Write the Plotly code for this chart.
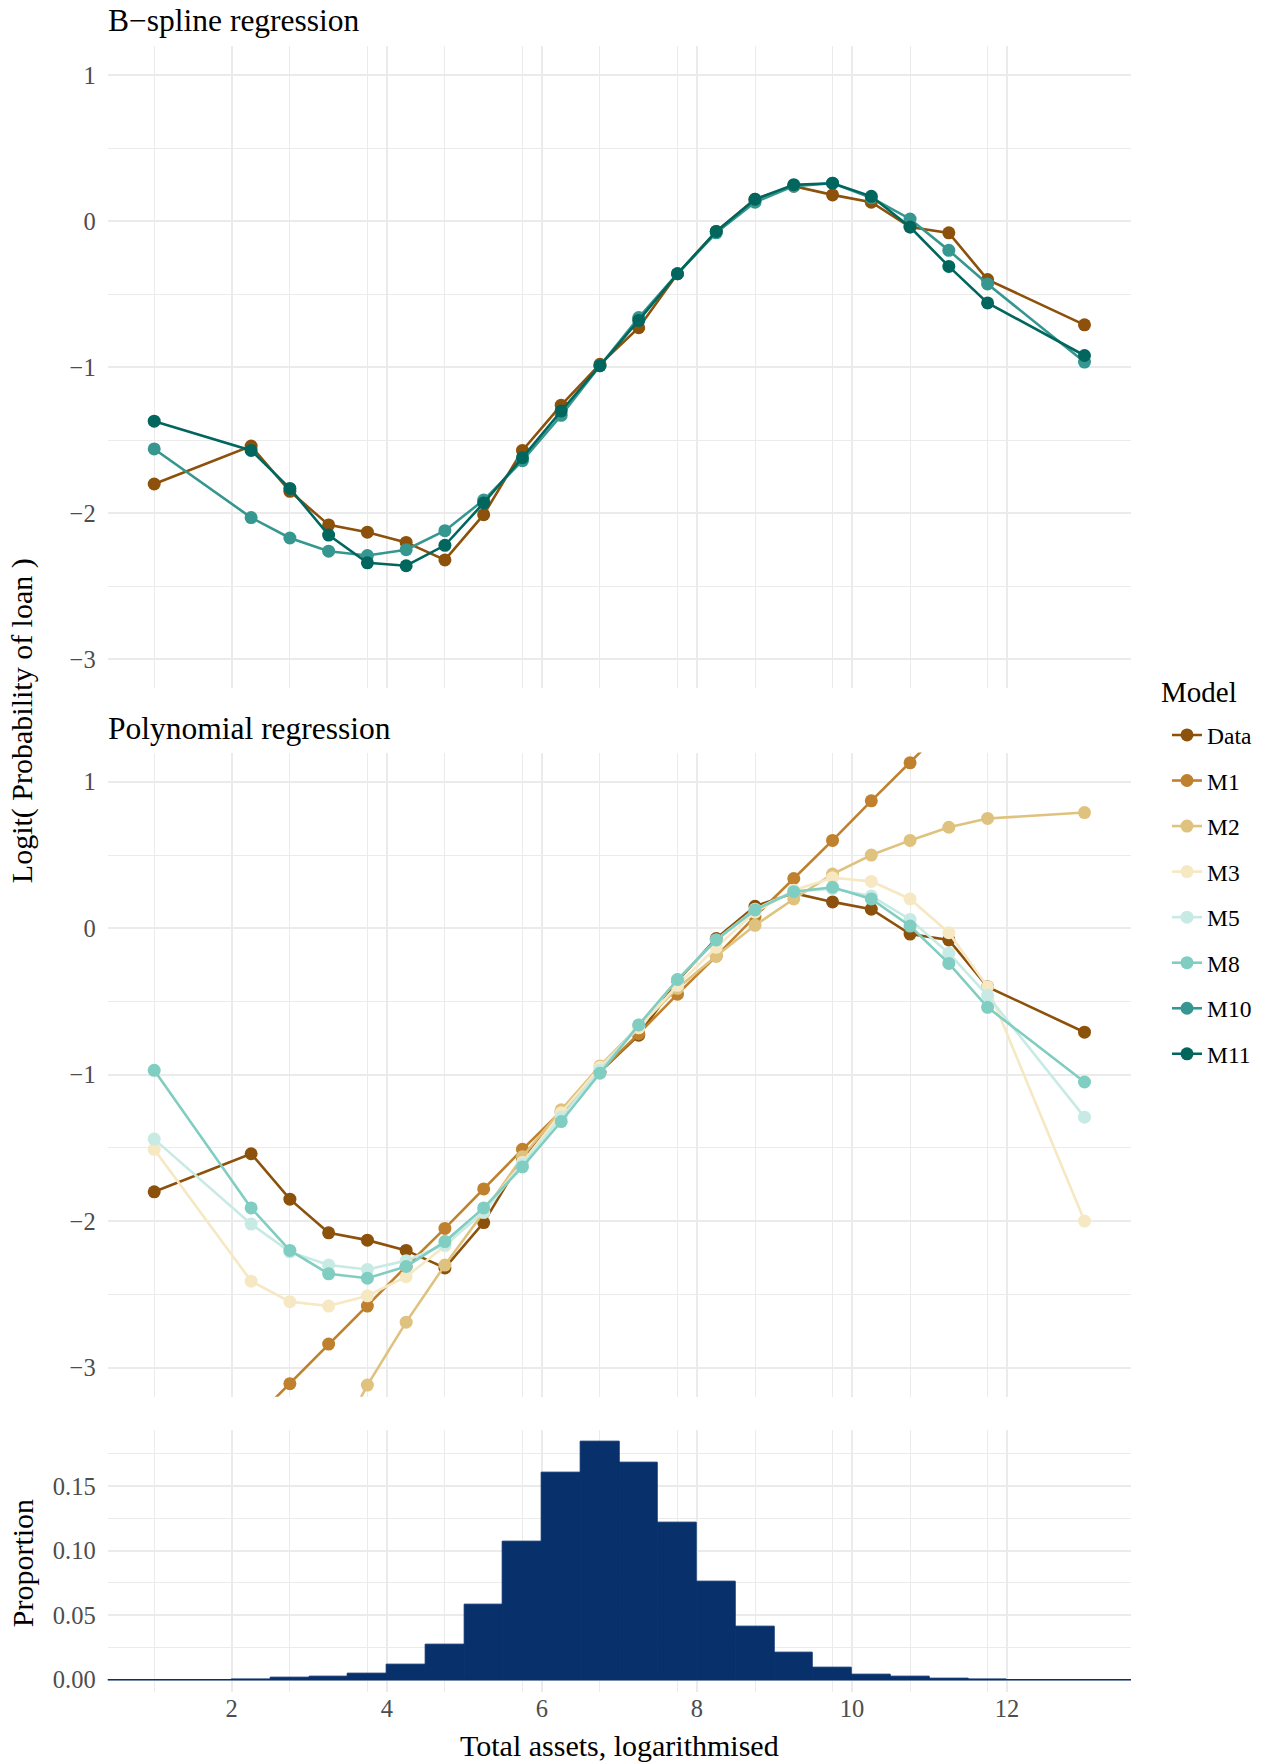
import plotly.graph_objects as go

# ---------------- data ----------------
x_pts = [1, 2.25, 2.75, 3.25, 3.75, 4.25, 4.75, 5.25, 5.75, 6.25, 6.75,
         7.25, 7.75, 8.25, 8.75, 9.25, 9.75, 10.25, 10.75, 11.25, 11.75, 13]

data_y = [-1.80, -1.54, -1.85, -2.08, -2.13, -2.20, -2.32, -2.01, -1.57, -1.26, -0.98,
          -0.73, -0.36, -0.07, 0.15, 0.24, 0.18, 0.13, -0.04, -0.08, -0.40, -0.71]
m1_y = [-4.04, -3.375, -3.11, -2.84, -2.58, -2.31, -2.05, -1.78, -1.51, -1.25, -0.98,
        -0.72, -0.45, -0.19, 0.08, 0.34, 0.60, 0.87, 1.13, 1.40, 1.66, 2.33]
m2_y = [-6.30, -4.70, -4.15, -3.62, -3.12, -2.69, -2.30, -1.94, -1.56, -1.24, -0.94,
        -0.67, -0.41, -0.19, 0.02, 0.20, 0.37, 0.50, 0.60, 0.69, 0.75, 0.79]
m3_y = [-1.51, -2.41, -2.55, -2.58, -2.51, -2.38, -2.17, -1.93, -1.60, -1.26, -0.95,
        -0.68, -0.39, -0.13, 0.11, 0.26, 0.345, 0.32, 0.20, -0.03, -0.40, -2.00]
m5_y = [-1.44, -2.02, -2.21, -2.30, -2.33, -2.27, -2.16, -1.94, -1.61, -1.29, -0.97,
        -0.66, -0.35, -0.08, 0.13, 0.25, 0.27, 0.22, 0.06, -0.17, -0.46, -1.29]
m8_y = [-0.97, -1.91, -2.20, -2.36, -2.39, -2.31, -2.14, -1.91, -1.63, -1.32, -0.99,
        -0.66, -0.35, -0.08, 0.125, 0.25, 0.28, 0.20, 0.015, -0.24, -0.54, -1.05]
m10_y = [-1.56, -2.03, -2.17, -2.26, -2.29, -2.25, -2.12, -1.91, -1.64, -1.33, -0.99,
         -0.66, -0.36, -0.08, 0.13, 0.24, 0.26, 0.16, 0.015, -0.20, -0.43, -0.965]
m11_y = [-1.37, -1.57, -1.83, -2.15, -2.34, -2.36, -2.22, -1.93, -1.62, -1.30, -0.99,
         -0.68, -0.36, -0.07, 0.15, 0.25, 0.26, 0.17, -0.04, -0.31, -0.56, -0.92]

hist_x = [2.25, 2.75, 3.25, 3.75, 4.25, 4.75, 5.25, 5.75, 6.25, 6.75,
          7.25, 7.75, 8.25, 8.75, 9.25, 9.75, 10.25, 10.75, 11.25, 11.75]
hist_y = [0.0004, 0.0013, 0.0023, 0.0044, 0.0116, 0.0269, 0.058, 0.1068, 0.1601, 0.1844,
          0.1681, 0.1216, 0.0758, 0.0409, 0.0207, 0.0091, 0.0042, 0.0021, 0.0006, 0.0003]

model_names = ["Data", "M1", "M2", "M3", "M5", "M8", "M10", "M11"]
model_colors = ["#8c510a", "#bf812d", "#dfc27d", "#f6e8c3", "#c7eae5", "#80cdc1", "#35978f", "#01665e"]

top_series = [("Data", data_y), ("M10", m10_y), ("M11", m11_y)]
bottom_series = [("Data", data_y), ("M1", m1_y), ("M2", m2_y), ("M3", m3_y),
                 ("M5", m5_y), ("M8", m8_y)]

x_major = [2, 4, 6, 8, 10, 12]
x_minor = [1, 2.75, 3.75, 4.75, 5.75, 6.75, 7.75, 8.75, 9.75, 10.75, 11.75]
y_major = [-3, -2, -1, 0, 1]
y_minor = [-2.5, -1.5, -0.5, 0.5]
h_major = [0, 0.05, 0.10, 0.15]
h_minor = [0.025, 0.075, 0.125, 0.175]

# ---------------- layout helpers ----------------
W, H = 1269, 1764
FONT = "Liberation Serif"
GRID = "#ebebeb"
TICKC = "#4d4d4d"
TICKSIZE = 24.5


def fx(p):
    return p / W


def fy(p):
    return 1 - p / H


color_of = dict(zip(model_names, model_colors))
rank_of = {n: i for i, n in enumerate(model_names)}
shown = set()

fig = go.Figure()


def add_series(series, xa, ya):
    for name, ys in series:
        show = name not in shown
        shown.add(name)
        fig.add_trace(go.Scatter(
            x=x_pts, y=ys, mode="lines+markers", name=name,
            legendgroup=name, showlegend=show, legendrank=rank_of[name],
            line=dict(color=color_of[name], width=2.6),
            marker=dict(color=color_of[name], size=13),
            xaxis=xa, yaxis=ya,
        ))


add_series(top_series, "x", "y")
add_series(bottom_series, "x2", "y2")

fig.add_trace(go.Bar(
    x=hist_x, y=hist_y, width=0.5, showlegend=False,
    marker=dict(color="#08306b", line=dict(color="#08306b", width=1)),
    xaxis="x3", yaxis="y3",
))

xdom = [fx(107.7), fx(1131)]
xcommon = dict(domain=xdom, range=[0.4, 13.6], tickvals=x_major, showgrid=True,
               gridcolor=GRID, gridwidth=2, zeroline=False, showline=False, ticks="",
               minor=dict(tickvals=x_minor, showgrid=True, gridcolor=GRID, gridwidth=1),
               tickfont=dict(family=FONT, size=TICKSIZE, color=TICKC))
ycommon = dict(showgrid=True, gridcolor=GRID, gridwidth=2, zeroline=False, showline=False,
               ticks="", tickfont=dict(family=FONT, size=TICKSIZE, color=TICKC),
               ticklabelstandoff=11)

fig.update_layout(
    width=W, height=H,
    margin=dict(l=0, r=0, t=0, b=0),
    paper_bgcolor="white", plot_bgcolor="white",
    font=dict(family=FONT, color="black"),
    xaxis=dict(**xcommon, anchor="y", showticklabels=False),
    xaxis2=dict(**xcommon, anchor="y2", showticklabels=False),
    xaxis3=dict(**xcommon, anchor="y3", showticklabels=True),
    yaxis=dict(**ycommon, domain=[fy(689.2), fy(46)], range=[-3.2, 1.2], anchor="x",
               tickvals=y_major,
               minor=dict(tickvals=y_minor, showgrid=True, gridcolor=GRID, gridwidth=1)),
    yaxis2=dict(**ycommon, domain=[fy(1398.4), fy(753.4)], range=[-3.2, 1.2], anchor="x2",
                tickvals=y_major,
                minor=dict(tickvals=y_minor, showgrid=True, gridcolor=GRID, gridwidth=1)),
    yaxis3=dict(**ycommon, domain=[fy(1693.6), fy(1431.3)], range=[-0.00922, 0.1936],
                anchor="x3", tickvals=h_major, tickformat=".2f",
                minor=dict(tickvals=h_minor, showgrid=True, gridcolor=GRID, gridwidth=1)),
    bargap=0,
    legend=dict(
        x=fx(1167), y=fy(714), xanchor="left", yanchor="top",
        font=dict(family=FONT, size=23.5, color="black"),
        tracegroupgap=12, bgcolor="rgba(0,0,0,0)",
    ),
    shapes=[dict(type="line", xref="x3 domain", yref="y3", x0=0, x1=1, y0=0, y1=0,
                 line=dict(color="#08306b", width=1.5), layer="above")],
    annotations=[
        dict(text="Model", xref="paper", yref="paper",
             x=fx(1159), y=fy(693), xanchor="left", yanchor="middle", showarrow=False,
             font=dict(family=FONT, size=29, color="black")),
        dict(text="B\u2212spline regression", xref="paper", yref="paper",
             x=fx(106), y=fy(21), xanchor="left", yanchor="middle", showarrow=False,
             font=dict(family=FONT, size=31.5, color="black")),
        dict(text="Polynomial regression", xref="paper", yref="paper",
             x=fx(106), y=fy(729), xanchor="left", yanchor="middle", showarrow=False,
             font=dict(family=FONT, size=31.5, color="black")),
        dict(text="Logit( Probability of loan )", xref="paper", yref="paper",
             x=fx(22), y=fy(722), xanchor="center", yanchor="middle", showarrow=False,
             textangle=-90, font=dict(family=FONT, size=30, color="black")),
        dict(text="Proportion", xref="paper", yref="paper",
             x=fx(22), y=fy(1565), xanchor="center", yanchor="middle", showarrow=False,
             textangle=-90, font=dict(family=FONT, size=30, color="black")),
        dict(text="Total assets, logarithmised", xref="paper", yref="paper",
             x=fx(619), y=fy(1747), xanchor="center", yanchor="middle", showarrow=False,
             font=dict(family=FONT, size=30, color="black")),
    ],
)

fig.write_html(
    "out.html",
    config={"displayModeBar": False},
    post_script="document.body.style.margin='0px';document.body.style.padding='0px';"
                "document.documentElement.style.overflow='hidden';",
)
